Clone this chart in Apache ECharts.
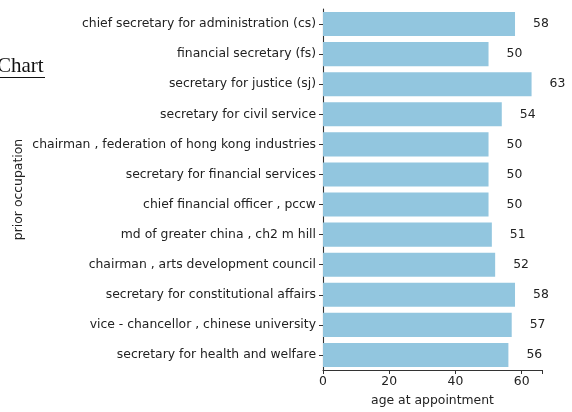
<!DOCTYPE html>
<html>
<head>
<meta charset="utf-8">
<script src="https://cdn.jsdelivr.net/npm/echarts@6/dist/echarts.min.js"></script>
<style>
  html, body { margin: 0; padding: 0; background: #fff; }
  #chart { width: 572px; height: 412px; }
</style>
</head>
<body>
<div id="chart"></div>
<script>
// occupations, top to bottom
const occupations = [
  'chief secretary for administration (cs)',
  'financial secretary (fs)',
  'secretary for justice (sj)',
  'secretary for civil service',
  'chairman , federation of hong kong industries',
  'secretary for financial services',
  'chief financial officer , pccw',
  'md of greater china , ch2 m hill',
  'chairman , arts development council',
  'secretary for constitutional affairs',
  'vice - chancellor , chinese university',
  'secretary for health and welfare'
];
const ages = [58, 50, 63, 54, 50, 50, 50, 51, 52, 58, 57, 56];
const ageTicks = [0, 20, 40, 60];

const font = 'DejaVu Sans';
const fs = 12.4;
let chart = echarts.init(document.getElementById('chart'));
chart.setOption({
  animation: false,
  textStyle: { fontFamily: font },
  grid: { left: 323, right: 30, top: 9, bottom: 41, containLabel: false },
  graphic: [
    {
      type: 'text', left: -3, top: 56,
      style: { text: 'Chart', font: '21px "Liberation Serif"', fill: '#111' }
    },
    {
      type: 'line',
      shape: { x1: 0, y1: 77.5, x2: 45, y2: 77.5 },
      style: { stroke: '#111', lineWidth: 1.2 }
    }
  ],
  xAxis: {
    type: 'value',
    min: 0,
    max: 66.15,
    interval: 20,
    name: 'age at appointment',
    nameLocation: 'middle',
    nameGap: 25,
    nameTextStyle: { fontSize: fs, color: '#222', fontFamily: font },
    axisLine: { show: true, lineStyle: { color: '#333', width: 1.1 } },
    axisTick: { show: true, length: 4, lineStyle: { color: '#333' } },
    axisLabel: {
      fontSize: fs, color: '#222', margin: 6,
      formatter: v => ageTicks.includes(v) ? String(v) : ''
    },
    splitLine: { show: false }
  },
  yAxis: {
    type: 'category',
    data: occupations,
    inverse: true,
    name: 'prior occupation',
    nameLocation: 'middle',
    nameGap: 298,
    nameRotate: 90,
    nameTextStyle: { fontSize: fs, color: '#222', fontFamily: font },
    axisLine: { show: true, lineStyle: { color: '#333', width: 1.1 } },
    axisTick: { show: true, alignWithLabel: true, length: 4, lineStyle: { color: '#333' } },
    axisLabel: { fontSize: fs, color: '#222', margin: 7 }
  },
  series: [
    {
      type: 'bar',
      data: ages,
      barCategoryGap: '20%',
      itemStyle: { color: '#92c6df' },
      label: {
        show: true,
        position: 'right',
        distance: 18,
        fontSize: fs,
        color: '#222',
        fontFamily: font
      }
    }
  ]
});
</script>
</body>
</html>
